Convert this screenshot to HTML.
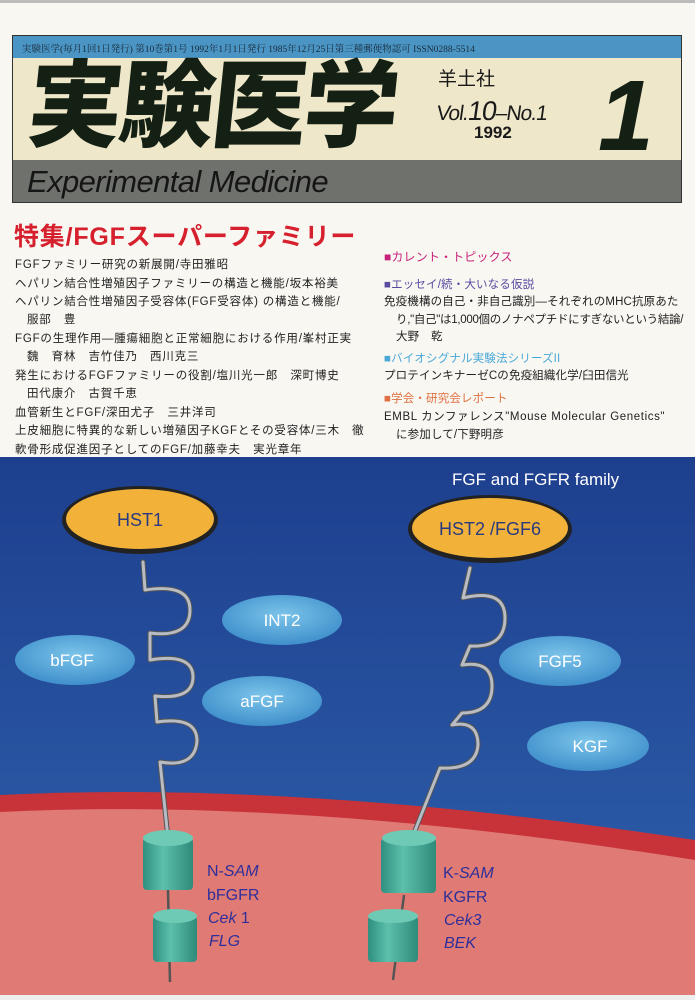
<!DOCTYPE html>
<html><head><meta charset="utf-8"><style>
*{margin:0;padding:0;box-sizing:border-box}
body{width:695px;height:1000px;background:#f8f7f2;position:relative;overflow:hidden;font-family:"Liberation Sans","Noto Sans CJK JP",sans-serif;}
.abs{position:absolute}
.toc{position:absolute;left:15px;font-size:11.5px;color:#222;white-space:nowrap;letter-spacing:0.8px}
.rt{position:absolute;left:384px;font-size:11.5px;color:#222;white-space:nowrap;letter-spacing:0.15px}
</style></head><body>
<div class="abs" style="left:0;top:0;width:695px;height:3px;background:#bbb"></div>
<div class="abs" style="left:12px;top:35px;width:670px;height:168px;border:1px solid #333;background:#efe7c9"></div>
<div class="abs" style="left:13px;top:36px;width:668px;height:22px;background:#4a95c4"></div>
<div class="abs" style="left:22px;top:41px;font-size:9.5px;color:#1a2a3a;font-family:'Liberation Serif','Noto Serif CJK SC',serif;white-space:nowrap">実験医学(毎月1回1日発行) 第10巻第1号 1992年1月1日発行 1985年12月25日第三種郵便物認可 ISSN0288-5514</div>
<div class="abs" style="left:13px;top:160px;width:668px;height:42px;background:#6f716c"></div>
<div class="abs" style="left:28px;top:60px;font-size:95px;line-height:1;font-weight:900;color:#142014;letter-spacing:-3px;white-space:nowrap;transform:skewX(-6deg)">実験医学</div>
<div class="abs" style="left:438px;top:64px;font-size:19px;color:#1a1a1a">羊土社</div>
<div class="abs" style="left:437px;top:98px;font-size:21px;color:#1a1a1a;transform:skewX(-8deg);white-space:nowrap;letter-spacing:-1px;line-height:1">Vol.<span style="font-size:27px">10</span>–No.1</div>
<div class="abs" style="left:474px;top:124px;font-size:17px;font-weight:bold;color:#1a1a1a;line-height:1">1992</div>
<div class="abs" style="left:598px;top:66px;font-size:100px;font-weight:bold;font-style:italic;color:#142014;line-height:1">1</div>
<div class="abs" style="left:27px;top:163px;font-size:31px;font-style:italic;color:#151515;letter-spacing:-0.6px;white-space:nowrap;line-height:1.2">Experimental Medicine</div>
<div class="abs" style="left:14px;top:217px;font-size:25px;font-weight:bold;color:#d6202e;white-space:nowrap;letter-spacing:0.8px">特集/FGFスーパーファミリー</div>
<div class="toc" style="top:256px">FGFファミリー研究の新展開/寺田雅昭</div>
<div class="toc" style="top:275px">ヘパリン結合性増殖因子ファミリーの構造と機能/坂本裕美</div>
<div class="toc" style="top:293px">ヘパリン結合性増殖因子受容体(FGF受容体) の構造と機能/</div>
<div class="toc" style="top:311px;left:27px">服部　豊</div>
<div class="toc" style="top:330px">FGFの生理作用—腫瘍細胞と正常細胞における作用/峯村正実</div>
<div class="toc" style="top:348px;left:27px">魏　育林　吉竹佳乃　西川克三</div>
<div class="toc" style="top:367px">発生におけるFGFファミリーの役割/塩川光一郎　深町博史</div>
<div class="toc" style="top:385px;left:27px">田代康介　古賀千恵</div>
<div class="toc" style="top:404px">血管新生とFGF/深田尤子　三井洋司</div>
<div class="toc" style="top:422px">上皮細胞に特異的な新しい増殖因子KGFとその受容体/三木　徹</div>
<div class="toc" style="top:441px">軟骨形成促進因子としてのFGF/加藤幸夫　実光章年</div>
<div class="rt" style="top:248px;color:#c8207a;font-size:12px">■カレント・トピックス</div>
<div class="rt" style="top:276px;color:#5a4aa0">■エッセイ/続・大いなる仮説</div>
<div class="rt" style="top:293px">免疫機構の自己・非自己識別—それぞれのMHC抗原あた</div>
<div class="rt" style="top:311px;left:396px;letter-spacing:-0.3px">り,"自己"は1,000個のノナペプチドにすぎないという結論/</div>
<div class="rt" style="top:328px;left:396px">大野　乾</div>
<div class="rt" style="top:350px;color:#4aa8d8">■バイオシグナル実験法シリーズII</div>
<div class="rt" style="top:367px">プロテインキナーゼCの免疫組織化学/臼田信光</div>
<div class="rt" style="top:390px;color:#e07040">■学会・研究会レポート</div>
<div class="rt" style="top:408px;letter-spacing:0.6px">EMBL カンファレンス"Mouse Molecular Genetics"</div>
<div class="rt" style="top:426px;left:396px">に参加して/下野明彦</div>
<svg class="abs" style="left:0;top:457px" width="695" height="543" viewBox="0 457 695 543">
<defs>
<linearGradient id="bl" x1="0" y1="0" x2="0" y2="1"><stop offset="0" stop-color="#1d3f8e"/><stop offset="1" stop-color="#2f62ad"/></linearGradient>
<radialGradient id="el" cx="0.5" cy="0.4" r="0.6"><stop offset="0" stop-color="#7cc4ea"/><stop offset="1" stop-color="#3f8fcb"/></radialGradient>
<linearGradient id="cy" x1="0" y1="0" x2="1" y2="0"><stop offset="0" stop-color="#2f8f80"/><stop offset="0.4" stop-color="#5cc0ab"/><stop offset="1" stop-color="#2f8a7a"/></linearGradient>
</defs>
<rect x="0" y="457" width="695" height="543" fill="url(#bl)"/>
<path d="M0 795 Q300 780 695 840 L695 1000 L0 1000Z" fill="#c8333a"/>
<path d="M0 812 Q300 797 695 860 L695 1000 L0 1000Z" fill="#e07a74"/>
<rect x="0" y="995" width="695" height="5" fill="#eee"/>
<text x="452" y="485" fill="#fff" font-size="17" font-family="Liberation Sans">FGF and FGFR family</text>
<ellipse cx="140" cy="520" rx="78" ry="34" fill="#222"/>
<ellipse cx="140" cy="519" rx="74" ry="30" fill="#f2b23a"/>
<text x="140" y="526" text-anchor="middle" fill="#2a3a80" font-size="18" font-family="Liberation Sans">HST1</text>
<ellipse cx="490" cy="529" rx="82" ry="34" fill="#222"/>
<ellipse cx="490" cy="528" rx="78" ry="30" fill="#f2b23a"/>
<text x="490" y="535" text-anchor="middle" fill="#2a3a80" font-size="18" font-family="Liberation Sans">HST2 /FGF6</text>
<g font-family="Liberation Sans" font-size="17" fill="#fff" text-anchor="middle">
<ellipse cx="282" cy="620" rx="60" ry="25" fill="url(#el)"/><text x="282" y="626">INT2</text>
<ellipse cx="75" cy="660" rx="60" ry="25" fill="url(#el)"/><text x="72" y="666">bFGF</text>
<ellipse cx="262" cy="701" rx="60" ry="25" fill="url(#el)"/><text x="262" y="707">aFGF</text>
<ellipse cx="560" cy="661" rx="61" ry="25" fill="url(#el)"/><text x="560" y="667">FGF5</text>
<ellipse cx="588" cy="746" rx="61" ry="25" fill="url(#el)"/><text x="590" y="752">KGF</text>
</g>
<g fill="none" stroke-linecap="round" stroke-linejoin="round">
<g stroke="#555" stroke-width="5">
<path d="M143 562 L145 590 Q190 583 190 610 Q190 638 150 633 L150 660 Q193 653 193 677 Q193 700 155 696 L157 722 Q197 716 197 741 Q195 768 160 762 L168 838"/>
<path d="M470 568 L463 598 Q505 588 505 618 Q505 648 470 646 L462 665 Q492 660 492 686 Q492 713 462 713 L452 725 Q478 720 478 745 Q476 770 440 768 L412 838"/>
</g>
<g stroke="#b8bcc4" stroke-width="3">
<path d="M143 562 L145 590 Q190 583 190 610 Q190 638 150 633 L150 660 Q193 653 193 677 Q193 700 155 696 L157 722 Q197 716 197 741 Q195 768 160 762 L168 838"/>
<path d="M470 568 L463 598 Q505 588 505 618 Q505 648 470 646 L462 665 Q492 660 492 686 Q492 713 462 713 L452 725 Q478 720 478 745 Q476 770 440 768 L412 838"/>
</g>
</g>
<g stroke="#555" stroke-width="2.5"><line x1="168" y1="890" x2="170" y2="982"/><line x1="404" y1="895" x2="393" y2="980"/></g>
<rect x="143" y="838" width="50" height="52" rx="4" fill="url(#cy)"/><ellipse cx="168" cy="838" rx="25" ry="8" fill="#6fcab5"/>
<rect x="153" y="916" width="44" height="46" rx="4" fill="url(#cy)"/><ellipse cx="175" cy="916" rx="22" ry="7" fill="#6fcab5"/>
<rect x="381" y="838" width="55" height="55" rx="4" fill="url(#cy)"/><ellipse cx="409" cy="838" rx="27" ry="8" fill="#6fcab5"/>
<rect x="368" y="916" width="50" height="46" rx="4" fill="url(#cy)"/><ellipse cx="393" cy="916" rx="25" ry="7" fill="#6fcab5"/>
<g font-family="Liberation Sans" font-size="16" fill="#2e2f9a">
<text x="207" y="876">N-<tspan font-style="italic">SAM</tspan></text>
<text x="207" y="900">bFGFR</text>
<text x="208" y="923" font-style="italic">Cek<tspan font-style="normal"> 1</tspan></text>
<text x="209" y="946" font-style="italic">FLG</text>
<text x="443" y="878">K-<tspan font-style="italic">SAM</tspan></text>
<text x="443" y="902">KGFR</text>
<text x="444" y="925" font-style="italic">Cek3</text>
<text x="444" y="948" font-style="italic">BEK</text>
</g>
</svg>
</body></html>
